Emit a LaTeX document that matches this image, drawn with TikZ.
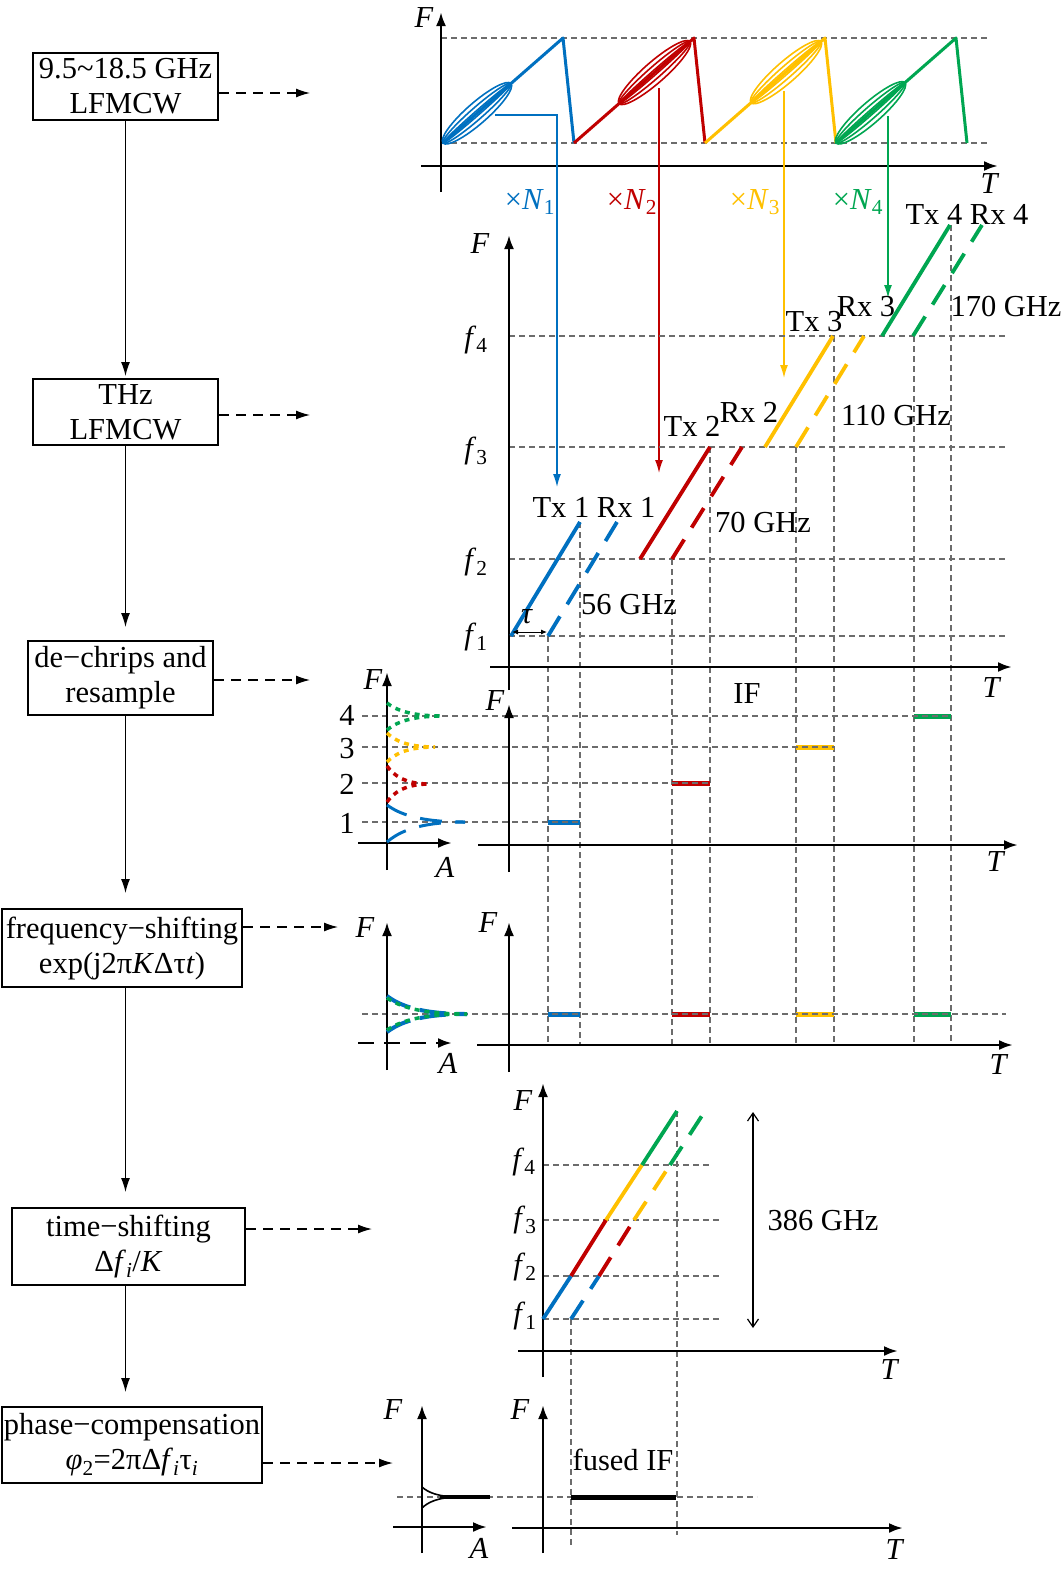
\documentclass[tikz,border=0pt]{standalone}
\usepackage{fontspec}
\setmainfont{Liberation Serif}
\usepackage{tikz}
\usetikzlibrary{arrows.meta}

\definecolor{cblue}{HTML}{0070C0}
\definecolor{cred}{HTML}{C00000}
\definecolor{cyellow}{HTML}{FFC000}
\definecolor{cgreen}{HTML}{00A651}

\tikzset{
  flowbox/.style={draw, line width=2pt, inner sep=0pt, align=center},
  flowarr/.style={-{Latex[length=14pt,width=9pt]}, line width=1.3pt},
  dasharr/.style={-{Latex[length=14pt,width=9pt]}, line width=1.3pt, dash pattern=on 10pt off 7pt},
  axisline/.style={-{Latex[length=14pt,width=10pt]}, line width=2.6pt},
  mularr/.style={-{Latex[length=13pt,width=8pt]}, line width=1.3pt},
  guide/.style={gray!85!black, line width=1.2pt, dash pattern=on 6pt off 4pt},
  chirp/.style={line width=3.8pt},
  echo/.style={line width=3.8pt, dash pattern=on 23pt off 14pt},
  dotline/.style={line width=3.5pt, dash pattern=on 5pt off 5pt},
  lbl/.style={inner sep=0pt},
}
\newcommand{\iv}[1]{\textit{#1}}
% one spectral lobe: style, x0, centre, top, bottom, end
\newcommand{\speclobe}[6]{%
  \draw[#1] (#2,#4) .. controls ({#2+0.15*(#6-#2)},{#4+0.5*(#3-#4)}) and ({#2+0.4*(#6-#2)},#3) .. (#6,#3);
  \draw[#1] (#2,#5) .. controls ({#2+0.15*(#6-#2)},{#5+0.5*(#3-#5)}) and ({#2+0.4*(#6-#2)},#3) .. (#6,#3);}

\begin{document}
\begin{tikzpicture}[x=1pt,y=-1pt,font=\fontsize{30.5}{35}\selectfont]
  \useasboundingbox (0,0) rectangle (1062,1569);

  % processing chain
  \node[flowbox, minimum width=185pt, minimum height=67pt] (b1) at (125.5,86.5) {9.5\textasciitilde18.5 GHz\\LFMCW};
  \node[flowbox, minimum width=185pt, minimum height=66pt] (b2) at (125.5,412) {THz\\LFMCW};
  \node[flowbox, minimum width=185pt, minimum height=74pt] (b3) at (120.5,678) {de−chrips and\\resample};
  \node[flowbox, minimum width=240pt, minimum height=78pt] (b4) at (122,948) {frequency−shifting\\exp(j2π\iv{K}Δτ\iv{t})};
  \node[flowbox, minimum width=233pt, minimum height=77pt] (b5) at (128.5,1246.5) {time−shifting\\Δ\iv{f}\textsubscript{\iv{i}}/\iv{K}};
  \node[flowbox, minimum width=260pt, minimum height=76pt] (b6) at (132,1445) {phase−compensation\\\iv{φ}\textsubscript{2}=2πΔ\iv{f}\textsubscript{\iv{i}}τ\textsubscript{\iv{i}}};

  \draw[flowarr, shorten >=2pt] (b1.south) -- (b1.south |- b2.north);
  \draw[flowarr, shorten >=13pt] (b1.south |- b2.south) -- (b1.south |- b3.north);
  \draw[flowarr, shorten >=15pt] (b1.south |- b3.south) -- (b1.south |- b4.north);
  \draw[flowarr, shorten >=15pt] (b1.south |- b4.south) -- (b1.south |- b5.north);
  \draw[flowarr, shorten >=14pt] (b1.south |- b5.south) -- (b1.south |- b6.north);

  \coordinate (d1) at (310,93);
  \coordinate (d2) at (310,415);
  \coordinate (d3) at (310,680);
  \coordinate (d4) at (338,927);
  \coordinate (d5) at (372,1229);
  \coordinate (d6) at (393,1463);
  \draw[dasharr] (b1.east |- d1) -- (d1);
  \draw[dasharr] (b2.east |- d2) -- (d2);
  \draw[dasharr] (b3.east |- d3) -- (d3);
  \draw[dasharr] (b4.east |- d4) -- (d4);
  \draw[dasharr] (b5.east |- d5) -- (d5);
  \draw[dasharr] (b6.east |- d6) -- (d6);

  % low-frequency chirps
  \draw[guide] (441,38) -- (990,38);
  \draw[guide] (441,143) -- (990,143);
  \draw[axisline] (441,192) -- (441,12);
  \draw[axisline] (421,166) -- (998,166);
  \node[lbl] (ftop) at (424,18) {\iv{F}};
  \node[lbl] (ttop) at (990,184) {\iv{T}};
  \foreach \col/\x in {cblue/443, cred/574, cyellow/705, cgreen/836}
    \draw[\col, line width=3pt, line join=round] (\x,143) -- (\x+120,38) -- (\x+131,143);
  \foreach \col/\x/\a/\b in {cblue/443/0/68, cred/574/45/116, cyellow/705/46/116, cgreen/836/0/69} {
    \pgfmathsetmacro{\lcx}{\x+(\a+\b)/2}
    \pgfmathsetmacro{\lcy}{143-0.875*(\a+\b)/2}
    \pgfmathsetmacro{\lhl}{0.6644*(\b-\a)}
    \foreach \w in {10.5,6,2.2}
      \draw[\col, line width=1.6pt, rotate around={41.2:(\lcx,\lcy)}]
        (\lcx,\lcy) ellipse [x radius=\lhl pt, y radius=\w pt];
  }

  % frequency multipliers
  \draw[mularr, cblue] (495,115) -| (557,487);
  \draw[mularr, cred] (659,88) -- (659,473);
  \draw[mularr, cyellow] (784,91) -- (784,378);
  \draw[mularr, cgreen] (888,116) -- (888,298);
  \node[lbl, cblue] (n1) at (530,202) {×\iv{N}\textsubscript{1}};
  \node[lbl, cred] (n2) at (632,202) {×\iv{N}\textsubscript{2}};
  \node[lbl, cyellow] (n3) at (755,202) {×\iv{N}\textsubscript{3}};
  \node[lbl, cgreen] (n4) at (858,202) {×\iv{N}\textsubscript{4}};

  % THz chirps
  \foreach \y in {336,447,559,636}
    \draw[guide] (509,\y) -- (1005,\y);
  \foreach \x/\y in {548/636, 580/522, 672/559, 710/447, 796/447, 834/336, 914/336, 951/225}
    \draw[guide] (\x,\y) -- (\x,1045);
  \draw[axisline] (509,690) -- (509,235);
  \draw[axisline] (490,667) -- (1012,667);
  \node[lbl] (fthz) at (480,244) {\iv{F}};
  \node[lbl] (tthz) at (992,688) {\iv{T}};
  \node[lbl] (f4) at (476,340) {\iv{f}\textsubscript{4}};
  \node[lbl] (f3) at (476,451) {\iv{f}\textsubscript{3}};
  \node[lbl] (f2) at (476,562) {\iv{f}\textsubscript{2}};
  \node[lbl] (f1) at (476,637) {\iv{f}\textsubscript{1}};
  \draw[chirp, cblue] (511,636) -- (580,522);
  \draw[echo, cblue] (548,636) -- (617,522);
  \draw[chirp, cred] (640,559) -- (710,447);
  \draw[echo, cred] (672,559) -- (742,447);
  \draw[chirp, cyellow] (765,447) -- (833,336);
  \draw[echo, cyellow] (796,447) -- (864,336);
  \draw[chirp, cgreen] (882,336) -- (950,225);
  \draw[echo, cgreen] (913,336) -- (982,225);
  \draw[{Latex[length=6pt,width=5pt]}-{Latex[length=6pt,width=5pt]}, line width=1pt] (512,632) -- (547,632);
  \node[lbl] (tau) at (527,617) {\iv{τ}};
  \node[lbl] (trx1) at (594,507) {Tx 1 Rx 1};
  \node[lbl] (bw1) at (629,605) {56 GHz};
  \node[lbl] (tx2) at (692,426) {Tx 2};
  \node[lbl] (rx2) at (749,412) {Rx 2};
  \node[lbl] (bw2) at (763,522) {70 GHz};
  \node[lbl] (tx3) at (814,322) {Tx 3};
  \node[lbl] (rx3) at (866,307) {Rx 3};
  \node[lbl] (bw3) at (896,415) {110 GHz};
  \node[lbl] (trx4) at (967,214) {Tx 4 Rx 4};
  \node[lbl] (bw4) at (1006,307) {170 GHz};

  % de-chirped IF
  \draw[cblue, line width=5pt] (548,822) -- (580,822);
  \draw[cred, line width=5pt] (672,783) -- (710,783);
  \draw[cyellow, line width=5pt] (796,747) -- (834,747);
  \draw[cgreen, line width=5pt] (914,716) -- (951,716);
  \draw[guide] (362,716) -- (951,716);
  \draw[guide] (362,747) -- (834,747);
  \draw[guide] (362,783) -- (710,783);
  \draw[guide] (362,822) -- (580,822);
  \draw[axisline] (387,870) -- (387,672);
  \draw[axisline] (358,843) -- (452,843);
  \draw[axisline] (509,872) -- (509,704);
  \draw[axisline] (478,845) -- (1018,845);
  \node[lbl] (fspec1) at (373,680) {\iv{F}};
  \node[lbl] (aspec1) at (445,867) {\iv{A}};
  \node[lbl] (k4) at (347,715) {4};
  \node[lbl] (k3) at (347,749) {3};
  \node[lbl] (k2) at (347,784) {2};
  \node[lbl] (k1) at (347,823) {1};
  \node[lbl] (fif) at (495,701) {\iv{F}};
  \node[lbl] (lblif) at (747,694) {IF};
  \node[lbl] (tif) at (996,862) {\iv{T}};
  \speclobe{cblue, line width=3pt, dash pattern=on 22pt off 14pt}{387}{822}{805}{842}{465}
  \speclobe{cred, dotline}{387}{784}{766}{802}{430}
  \speclobe{cyellow, dotline}{387}{747}{733}{762}{435}
  \speclobe{cgreen, dotline}{387}{716}{703}{730}{443}

  % frequency-shifted IF
  \draw[cblue, line width=5pt] (548,1014) -- (580,1014);
  \draw[cred, line width=5pt] (672,1014) -- (710,1014);
  \draw[cyellow, line width=5pt] (796,1014) -- (834,1014);
  \draw[cgreen, line width=5pt] (914,1014) -- (951,1014);
  \draw[guide] (362,1014) -- (1006,1014);
  \draw[axisline] (387,1070) -- (387,922);
  \draw[axisline, dash pattern=on 16pt off 10pt] (358,1043) -- (452,1043);
  \draw[axisline] (509,1072) -- (509,922);
  \draw[axisline] (477,1045) -- (1013,1045);
  \node[lbl] (fspec2) at (365,928) {\iv{F}};
  \node[lbl] (aspec2) at (448,1063) {\iv{A}};
  \node[lbl] (fsh) at (488,923) {\iv{F}};
  \node[lbl] (tsh) at (999,1065) {\iv{T}};
  \speclobe{cblue, line width=4pt, dash pattern=on 26pt off 10pt}{387}{1014}{996}{1032}{467}
  \speclobe{cgreen, dotline}{387}{1014}{998}{1030}{467}

  % time-shifted chirps
  \foreach \y/\xe in {1165/712, 1220/720, 1276/720, 1319/720}
    \draw[guide] (543,\y) -- (\xe,\y);
  \draw[guide] (571,1319) -- (571,1545);
  \draw[guide] (677,1111) -- (677,1535);
  \draw[axisline] (543,1377) -- (543,1083);
  \draw[axisline] (518,1351) -- (898,1351);
  \node[lbl] (fts) at (523,1100) {\iv{F}};
  \node[lbl] (tts) at (890,1369) {\iv{T}};
  \node[lbl] (g4) at (524,1162) {\iv{f}\textsubscript{4}};
  \node[lbl] (g3) at (525,1220) {\iv{f}\textsubscript{3}};
  \node[lbl] (g2) at (525,1267) {\iv{f}\textsubscript{2}};
  \node[lbl] (g1) at (525,1316) {\iv{f}\textsubscript{1}};
  \draw[chirp, cblue] (543,1319) -- (571,1276);
  \draw[chirp, cred] (571,1276) -- (606,1220);
  \draw[chirp, cyellow] (606,1220) -- (642,1165);
  \draw[chirp, cgreen] (642,1165) -- (677,1111);
  \draw[echo, cblue, dash pattern=on 22pt off 14pt] (571,1319) -- (599,1276);
  \draw[echo, cred, dash pattern=on 22pt off 14pt] (599,1276) -- (634,1220);
  \draw[echo, cyellow, dash pattern=on 22pt off 14pt] (634,1220) -- (670,1165);
  \draw[echo, cgreen, dash pattern=on 22pt off 14pt] (670,1165) -- (705,1111);
  \draw[{Straight Barb[length=8pt,width=11pt]}-{Straight Barb[length=8pt,width=11pt]}, line width=1.2pt] (753,1112) -- (753,1328);
  \node[lbl] (bwall) at (823,1220) {386 GHz};

  % fused IF
  \draw[guide] (397,1497) -- (757,1497);
  \draw[axisline] (422,1553) -- (422,1405);
  \draw[axisline] (393,1527) -- (487,1527);
  \draw[axisline] (543,1553) -- (543,1405);
  \draw[axisline] (512,1528) -- (903,1528);
  \node[lbl] (fspec3) at (393,1409) {\iv{F}};
  \node[lbl] (aspec3) at (479,1548) {\iv{A}};
  \node[lbl] (ffu) at (520,1409) {\iv{F}};
  \node[lbl] (tfu) at (895,1549) {\iv{T}};
  \speclobe{black, line width=1.6pt}{422}{1497}{1487}{1508}{460}
  \draw[line width=3.5pt] (440,1497) -- (490,1497);
  \draw[line width=5pt] (571,1497) -- (676,1497);
  \node[lbl] (lblfused) at (623,1460) {fused IF};
\end{tikzpicture}
\end{document}
